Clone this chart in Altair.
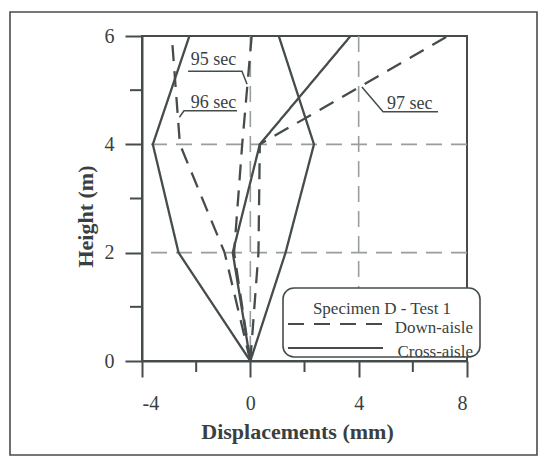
import altair as alt
import pandas as pd

# Storey heights (m) at which displacements were recorded
heights = [0, 2, 4, 6]

# Down-aisle displacement profiles (mm) at three instants
down_95 = [0, -0.6, -0.3, 0.05]
down_96 = [0, -0.95, -2.6, -2.9]
down_97 = [0, 0.3, 0.35, 7.3]

# Cross-aisle displacement profiles (mm) at the same instants
cross_95 = [0, 1.3, 2.35, 1.05]
cross_96 = [0, -2.65, -3.6, -2.25]
cross_97 = [0, -0.65, 0.35, 3.7]

# Axis ticks and reference grid
x_major = [-4, 0, 4, 8]
x_minor = [-2, 2, 6]
y_major = [0, 2, 4, 6]
y_minor = [1, 3, 5]
grid_x = [0, 4]
grid_y = [2, 4]

# Time annotations: text anchor plus leader/underline polyline (mm, m)
label_text = ["95 sec", "96 sec", "97 sec"]
label_x = [-2.2, -2.2, 5.05]
label_y = [5.46, 4.67, 4.65]
leader_x = [[-0.12, -0.31, -2.3], [-2.62, -2.45, -0.49], [4.12, 4.9, 6.93]]
leader_y = [[5.11, 5.35, 5.35], [4.5, 4.62, 4.62], [5.06, 4.6, 4.6]]

INK = "#464c4c"
TEXT = "#3a3f3f"
GRID = "#9a9d9d"
FONT = "Liberation Serif"
W, H = 325, 325

rows = []
profiles = [
    ("Down-aisle", "95", down_95), ("Down-aisle", "96", down_96), ("Down-aisle", "97", down_97),
    ("Cross-aisle", "95", cross_95), ("Cross-aisle", "96", cross_96), ("Cross-aisle", "97", cross_97),
]
for direction, t, vals in profiles:
    for h, d in zip(heights, vals):
        rows.append({"dir": direction, "series": direction + t, "disp": d, "height": h})
df = pd.DataFrame(rows)

xscale = alt.Scale(domain=[-4, 8], nice=False, zero=False)
yscale = alt.Scale(domain=[0, 6], nice=False, zero=False)
xaxis = alt.Axis(values=x_major, title="Displacements (mm)", tickSize=16,
                 labelPadding=16, titlePadding=8, titleX=155, grid=False,
                 labelExpr="'' + datum.value")
yaxis = alt.Axis(values=y_major, title="Height (m)", tickSize=17,
                 labelPadding=11, titlePadding=7, titleY=180, grid=False,
                 labelExpr="'' + datum.value")
X = alt.X("disp:Q", scale=xscale, axis=xaxis)
Y = alt.Y("height:Q", scale=yscale, axis=yaxis)

# Dashed reference grid
vgrid = alt.Chart(pd.DataFrame({"disp": grid_x})).mark_rule(
    color=GRID, strokeWidth=1.6, strokeDash=[16, 9]
).encode(x=X)
hgrid = alt.Chart(pd.DataFrame({"height": grid_y})).mark_rule(
    color=GRID, strokeWidth=1.6, strokeDash=[16, 9]
).encode(y=Y)

# Displacement profiles
lines = alt.Chart(df).mark_line(strokeWidth=2.3, color=INK).encode(
    x=X, y=Y,
    detail="series:N",
    order="height:Q",
    strokeDash=alt.StrokeDash("dir:N", scale=alt.Scale(domain=["Down-aisle", "Cross-aisle"],
                                                        range=[[16, 10], [1, 0]]), legend=None),
)

# Minor ticks
yminor = alt.Chart(pd.DataFrame({"height": y_minor})).mark_rule(color=INK, strokeWidth=2).encode(
    y=Y, x=alt.value(-12), x2=alt.value(0))
xminor = alt.Chart(pd.DataFrame({"disp": x_minor})).mark_rule(color=INK, strokeWidth=2).encode(
    x=X, y=alt.value(H), y2=alt.value(H + 11))

# Annotation leaders and labels
lead_rows = []
for i, (xs, ys) in enumerate(zip(leader_x, leader_y)):
    for k, (a, b) in enumerate(zip(xs, ys)):
        lead_rows.append({"lab": label_text[i], "k": k, "disp": a, "height": b})
leaders = alt.Chart(pd.DataFrame(lead_rows)).mark_line(color=INK, strokeWidth=1.5).encode(
    x=X, y=Y, detail="lab:N", order="k:Q")
labels = alt.Chart(pd.DataFrame({"lab": label_text, "disp": label_x, "height": label_y})).mark_text(
    font=FONT, fontSize=18, color=TEXT, align="left", baseline="alphabetic"
).encode(x=X, y=Y, text="lab:N")

one = pd.DataFrame({"k": [0]})

# Outer figure border
border = alt.Chart(one).mark_rect(fillOpacity=0, stroke=INK, strokeWidth=1.6).encode(
    x=alt.value(-132), x2=alt.value(395), y=alt.value(-24), y2=alt.value(419))

# Legend box with key
legend_box = alt.Chart(one).mark_rect(fill="white", stroke=INK, strokeWidth=1.6, cornerRadius=11).encode(
    x=alt.value(141), x2=alt.value(338), y=alt.value(252), y2=alt.value(321))
legend_title = alt.Chart(one).mark_text(font=FONT, fontSize=17, color=TEXT, align="center").encode(
    x=alt.value(240), y=alt.value(273), text=alt.value("Specimen D - Test 1"))
legend_dash = alt.Chart(one).mark_rule(color=INK, strokeWidth=2.2, strokeDash=[16, 10]).encode(
    x=alt.value(146), x2=alt.value(241), y=alt.value(288))
legend_solid = alt.Chart(one).mark_rule(color=INK, strokeWidth=2.2).encode(
    x=alt.value(146), x2=alt.value(241), y=alt.value(312))
legend_down = alt.Chart(one).mark_text(font=FONT, fontSize=17, color=TEXT, align="right").encode(
    x=alt.value(331), y=alt.value(292), text=alt.value("Down-aisle"))
legend_cross = alt.Chart(one).mark_text(font=FONT, fontSize=17, color=TEXT, align="right").encode(
    x=alt.value(331), y=alt.value(316), text=alt.value("Cross-aisle"))

chart = alt.layer(
    vgrid, hgrid, border, lines, yminor, xminor, leaders, labels,
    legend_box, legend_title, legend_dash, legend_solid, legend_down, legend_cross,
).properties(
    width=W, height=H, autosize="none",
    padding={"left": 142, "top": 36, "right": 78, "bottom": 98},
    background="white",
).configure_view(
    stroke=INK, strokeWidth=2
).configure_axis(
    domainColor=INK, domainWidth=2, tickColor=INK, tickWidth=2,
    labelFont=FONT, labelFontSize=20, labelColor=TEXT,
    titleFont=FONT, titleFontSize=22, titleFontWeight="bold", titleColor=TEXT,
)

chart.save("out.html", embed_options={"renderer": "svg", "actions": False})
